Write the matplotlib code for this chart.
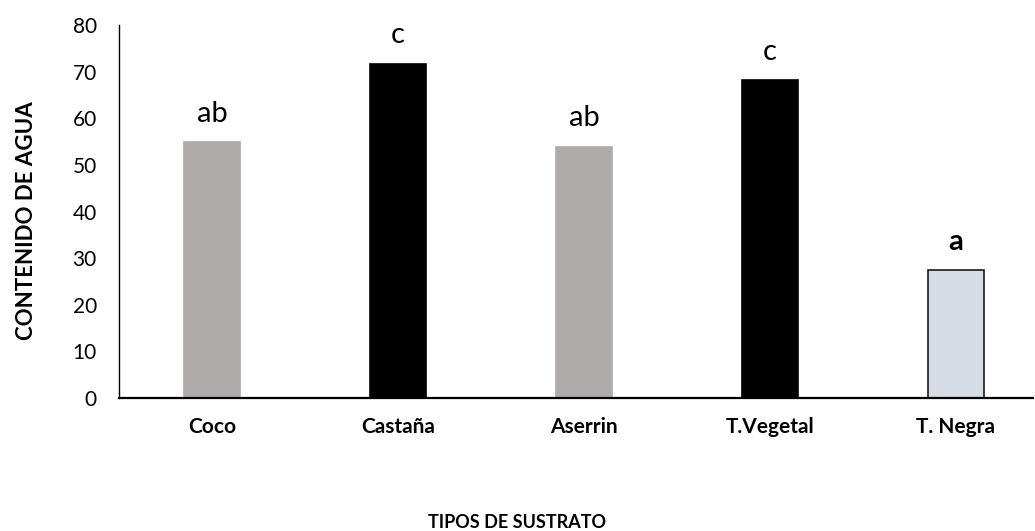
import matplotlib
matplotlib.use("Agg")
import matplotlib.pyplot as plt

categories = ["Coco", "Castaña", "Aserrin", "T.Vegetal", "T. Negra"]
values = [54.9, 71.7, 53.9, 68.2, 27.5]
letters = ["ab", "c", "ab", "c", "a"]
letter_bold = [False, False, False, False, True]
colors = ["#AEABAA", "#000000", "#AEABAA", "#000000", "#D6DCE5"]
edges = ["#AEABAA", "#000000", "#AEABAA", "#000000", "#1a1a1a"]

plt.rcParams['font.family'] = ['Lato', 'DejaVu Sans']

fig = plt.figure(figsize=(10.35, 5.31), dpi=100)
ax = fig.add_axes([119/1035, 1-398/531, (1033-119)/1035, (398-25)/531])

x = list(range(len(categories)))
bars = ax.bar(x, values, width=0.3, color=colors, edgecolor=edges, linewidth=1.2, zorder=2)
for xi, v, t, b in zip(x, values, letters, letter_bold):
    ax.annotate(t, (xi, v), xytext=(0, 11), textcoords="offset points",
                ha="center", va="bottom", fontsize=21,
                fontweight="bold" if b else "normal")

ax.set_xlim(-0.5, (1033-212)/186)
ax.set_ylim(0, 80)
ax.set_yticks(range(0, 81, 10))
ax.set_xticks(x)
ax.set_xticklabels(categories, fontweight="bold", fontsize=15)
ax.tick_params(axis="y", length=0, labelsize=15, pad=16)
ax.tick_params(axis="x", length=0, pad=14)
for s in ["top", "right"]:
    ax.spines[s].set_visible(False)
ax.spines["left"].set_linewidth(1.0)
ax.spines["bottom"].set_linewidth(1.6)
ax.set_ylabel("CONTENIDO DE AGUA", fontweight="bold", fontsize=16)
ax.yaxis.set_label_coords(-0.09, 0.475)
fig.text(517/1035, 1-522/531, "TIPOS DE SUSTRATO", ha="center", va="center",
         fontweight="bold", fontsize=13)

fig.savefig("out.png", dpi=100)
